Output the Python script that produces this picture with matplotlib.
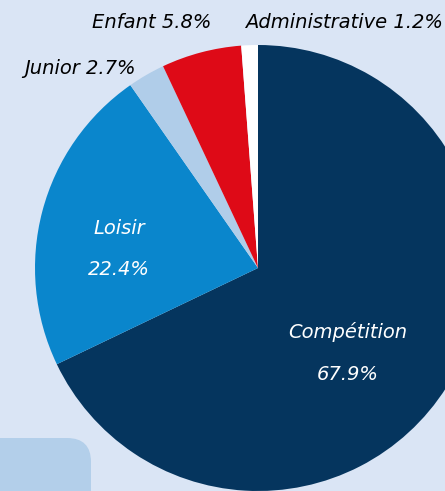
import matplotlib
matplotlib.use("Agg")
import matplotlib.pyplot as plt
from matplotlib.patches import FancyBboxPatch

labels = ["Compétition", "Loisir", "Junior", "Enfant", "Administrative"]
shares = [67.9, 22.4, 2.7, 5.8, 1.2]
colors = ["#05355e", "#0a86cc", "#b0cde9", "#de0a17", "#ffffff"]

bg = "#dae5f5"
fig = plt.figure(figsize=(4.45, 4.91), dpi=100)
fig.patch.set_facecolor(bg)
ax = fig.add_axes([0, 0, 1, 1])
ax.set_facecolor(bg)

# rounded box in the lower left corner
box = FancyBboxPatch((-40, -40), 131, 93, boxstyle="round,pad=0,rounding_size=24",
                     fc="#b3cfea", ec="none", zorder=0)
ax.add_patch(box)

# pie in pixel coordinates (y up)
cx, cy, r = 258, 223, 223
wedges, _ = ax.pie(shares, colors=colors, startangle=90, counterclock=False,
                   center=(cx, cy), radius=r, wedgeprops=dict(linewidth=0))

font = dict(family="DejaVu Sans", style="italic", fontweight="light")
# inside labels
ax.text(348, 491 - 353, f"{labels[0]}\n\n{shares[0]}%", ha="center", va="center",
        color="white", fontsize=14, linespacing=1.1, **font)
ax.text(119, 491 - 249, f"{labels[1]}\n\n{shares[1]}%", ha="center", va="center",
        color="white", fontsize=14, linespacing=1.1, **font)
# outside labels
ax.text(24, 491 - 68, f"{labels[2]} {shares[2]}%", ha="left", va="center",
        color="black", fontsize=14, **font)
ax.text(152, 491 - 22, f"{labels[3]} {shares[3]}%", ha="center", va="center",
        color="black", fontsize=14, **font)
ax.text(443, 491 - 22, f"{labels[4]} {shares[4]}%", ha="right", va="center",
        color="black", fontsize=14, **font)

ax.set_xlim(0, 445)
ax.set_ylim(0, 491)
ax.set_aspect("auto")
ax.axis("off")

fig.savefig("out.png", dpi=100, facecolor=bg)
